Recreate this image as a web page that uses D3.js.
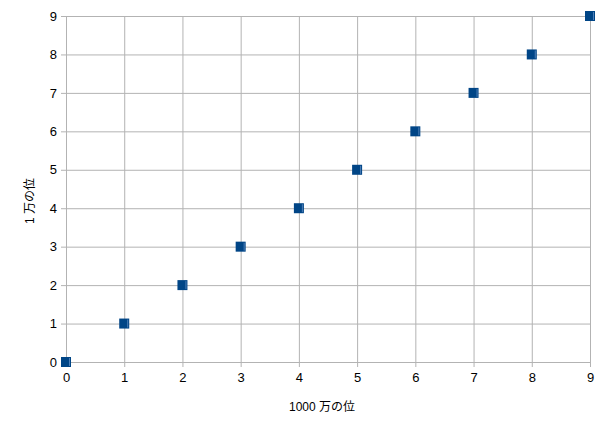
<!DOCTYPE html>
<html><head><meta charset="utf-8">
<script src="https://cdn.jsdelivr.net/npm/d3@7"></script>
<style>body{margin:0;background:#fff}svg{display:block}text{font-family:"Liberation Sans","Noto Sans CJK JP",sans-serif}</style>
</head><body><svg id="c" width="605" height="432"></svg>
<script>
const xValues = [0,1,2,3,4,5,6,7,8,9];
const yValues = [0,1,2,3,4,5,6,7,8,9];
const xTicks = [0,1,2,3,4,5,6,7,8,9];
const yTicks = [0,1,2,3,4,5,6,7,8,9];
const xTitle = "1000 万の位";
const yTitle = "1 万の位";

const svg = d3.select("#c");
const L=66,R=590,T=16,B=362;
const x = d3.scaleLinear().domain([0,9]).range([L,R]);
const y = d3.scaleLinear().domain([0,9]).range([B,T]);
const grid="#b3b3b3";

const gx = svg.append("g").attr("transform",`translate(0,${T})`)
  .call(d3.axisBottom(x).tickValues(xTicks).tickSize(B-T+5).tickPadding(6).tickFormat(d3.format("d")));
gx.select(".domain").remove();
gx.selectAll("line").attr("stroke",grid);
gx.selectAll("text").attr("font-size",13).attr("fill","#000");

const gy = svg.append("g").attr("transform",`translate(${R},0)`)
  .call(d3.axisLeft(y).tickValues(yTicks).tickSize(R-L+5).tickPadding(4).tickFormat(d3.format("d")));
gy.select(".domain").remove();
gy.selectAll("line").attr("stroke",grid);
gy.selectAll("text").attr("font-size",13).attr("fill","#000");

svg.append("text").attr("x",322).attr("y",411).attr("text-anchor","middle")
  .attr("font-size",12).text(xTitle);
svg.append("text").attr("transform",`translate(34,201) rotate(-90)`).attr("text-anchor","middle")
  .attr("font-size",12).text(yTitle);

const data = xValues.map((v,i)=>({x:v,y:yValues[i]}));
const m = svg.append("g").selectAll("g").data(data).join("g")
  .attr("transform",d=>`translate(${x(d.x)},${y(d.y)})`);
m.append("rect").attr("x",-5).attr("y",-5).attr("width",10).attr("height",10)
  .attr("fill","#004586");
m.append("line").attr("x1",3.5).attr("x2",3.5).attr("y1",-4).attr("y2",4)
  .attr("stroke","#4d7fb8").attr("stroke-width",1);
</script></body></html>
